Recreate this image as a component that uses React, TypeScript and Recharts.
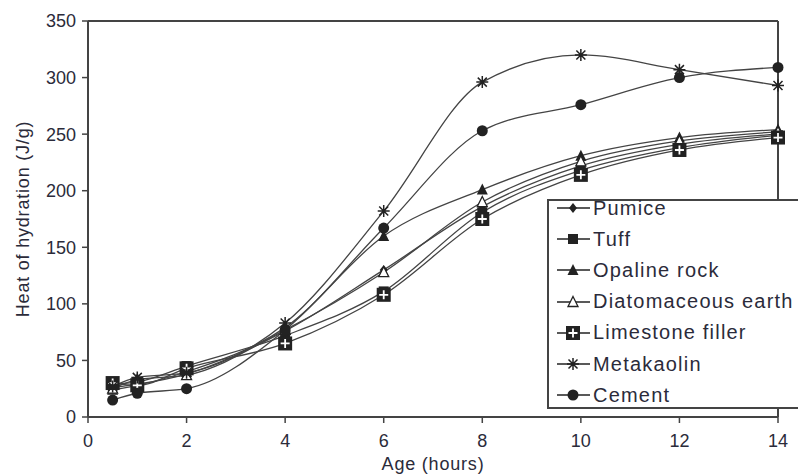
import React from "react";
import {
  LineChart,
  Line,
  XAxis,
  YAxis,
  Legend,
  ReferenceLine,
} from "recharts";

const ages = [0.5, 1, 2, 4, 6, 8, 10, 12, 14];
const pumice = [26, 29, 38, 76, 130, 186, 222, 241, 250];
const tuff = [29, 31, 45, 72, 111, 181, 218, 238, 249];
const opaline = [24, 28, 40, 79, 160, 201, 231, 247, 254];
const diatomaceous = [25, 33, 37, 77, 128, 190, 226, 244, 252];
const limestone = [30, 28, 43, 65, 108, 175, 214, 236, 247];
const metakaolin = [27, 35, 39, 83, 182, 296, 320, 307, 293];
const cement = [15, 21, 25, 77, 167, 253, 276, 300, 309];

const xTicks = [0, 2, 4, 6, 8, 10, 12, 14];
const yTicks = [0, 50, 100, 150, 200, 250, 300, 350];

const series = [
  { key: "pumice", name: "Pumice", values: pumice, marker: "diamond" },
  { key: "tuff", name: "Tuff", values: tuff, marker: "square" },
  { key: "opaline", name: "Opaline rock", values: opaline, marker: "triangle" },
  { key: "diatomaceous", name: "Diatomaceous earth", values: diatomaceous, marker: "openTriangle" },
  { key: "limestone", name: "Limestone filler", values: limestone, marker: "plusSquare" },
  { key: "metakaolin", name: "Metakaolin", values: metakaolin, marker: "star" },
  { key: "cement", name: "Cement", values: cement, marker: "circle" },
];

const data = ages.map((a, i) => {
  const row: Record<string, number> = { age: a };
  series.forEach((s) => {
    row[s.key] = s.values[i];
  });
  return row;
});

const INK = "#222";
const LINE = "#444";
const TEXT = "#2b2b3a";
const FONT = "'Liberation Sans', Arial, sans-serif";

function Marker({ kind, cx, cy }: { kind: string; cx: number; cy: number }) {
  switch (kind) {
    case "diamond":
      return (
        <polygon
          points={`${cx},${cy - 5} ${cx + 4},${cy} ${cx},${cy + 5} ${cx - 4},${cy}`}
          fill={INK}
        />
      );
    case "square":
      return <rect x={cx - 5} y={cy - 5} width={10} height={10} fill={INK} />;
    case "triangle":
      return (
        <polygon
          points={`${cx},${cy - 6} ${cx + 5.5},${cy + 5} ${cx - 5.5},${cy + 5}`}
          fill={INK}
        />
      );
    case "openTriangle":
      return (
        <polygon
          points={`${cx},${cy - 5.5} ${cx + 5},${cy + 4.5} ${cx - 5},${cy + 4.5}`}
          fill="#fff"
          stroke={INK}
          strokeWidth={1.3}
        />
      );
    case "plusSquare":
      return (
        <g>
          <rect x={cx - 7} y={cy - 7} width={14} height={14} fill={INK} />
          <path
            d={`M${cx - 4.5},${cy} H${cx + 4.5} M${cx},${cy - 4.5} V${cy + 4.5}`}
            stroke="#fff"
            strokeWidth={1.8}
          />
        </g>
      );
    case "star":
      return (
        <path
          d={`M${cx - 6},${cy} H${cx + 6} M${cx},${cy - 6} V${cy + 6} M${cx - 4.5},${cy - 4.5} L${cx + 4.5},${cy + 4.5} M${cx - 4.5},${cy + 4.5} L${cx + 4.5},${cy - 4.5}`}
          stroke={INK}
          strokeWidth={1.5}
        />
      );
    case "circle":
    default:
      return <circle cx={cx} cy={cy} r={5.5} fill={INK} />;
  }
}

// legend box runs off the right edge in the source figure, so no right border
const LegendBox = () => (
  <div
    style={{
      position: "relative",
      background: "#fff",
      borderTop: `2px solid ${LINE}`,
      borderLeft: `2px solid ${LINE}`,
      borderBottom: `2px solid ${LINE}`,
      width: 251,
      height: 210,
      boxSizing: "border-box",
      fontFamily: FONT,
    }}
  >
    {series.map((s, i) => (
      <div
        key={s.key}
        style={{
          position: "absolute",
          left: 6,
          top: -8 + i * 31.2,
          height: 30,
          display: "flex",
          alignItems: "center",
        }}
      >
        <svg width={36} height={30}>
          <line x1={2} y1={15} x2={35} y2={15} stroke={INK} strokeWidth={1.5} />
          <Marker kind={s.marker} cx={18} cy={15} />
        </svg>
        <span
          style={{
            fontSize: 20,
            color: TEXT,
            marginLeft: 2,
            letterSpacing: 1.2,
            whiteSpace: "nowrap",
          }}
        >
          {s.name}
        </span>
      </div>
    ))}
  </div>
);

export default function App() {
  return (
    <div style={{ position: "absolute", left: 0, top: 0, width: 798, height: 474, overflow: "hidden" }}>
      <LineChart
        width={798}
        height={474}
        data={data}
        margin={{ top: 21, right: 20, bottom: 0, left: 0 }}
      >
        <XAxis
          dataKey="age"
          type="number"
          domain={[0, 14]}
          ticks={xTicks}
          height={57}
          tickSize={6}
          tickMargin={11}
          axisLine={{ stroke: LINE, strokeWidth: 2 }}
          tickLine={{ stroke: LINE, strokeWidth: 1.5 }}
          tick={{ fill: TEXT, fontSize: 18, fontFamily: FONT }}
          label={{
            value: "Age (hours)",
            position: "center",
            dy: 18,
            style: { fill: TEXT, fontSize: 18, fontFamily: FONT, letterSpacing: 0.8 },
          }}
        />
        <YAxis
          type="number"
          domain={[0, 350]}
          ticks={yTicks}
          width={88}
          tickSize={6}
          tickMargin={6}
          axisLine={{ stroke: LINE, strokeWidth: 2 }}
          tickLine={{ stroke: LINE, strokeWidth: 1.5 }}
          tick={{ fill: TEXT, fontSize: 18, fontFamily: FONT }}
          label={{
            value: "Heat of hydration (J/g)",
            angle: -90,
            position: "center",
            dx: -21,
            style: { fill: TEXT, fontSize: 18, fontFamily: FONT, letterSpacing: 0.8 },
          }}
        />
        <ReferenceLine y={350} stroke={LINE} strokeWidth={2} />
        <ReferenceLine x={14} stroke={LINE} strokeWidth={2} />
        {series.map((s) => (
          <Line
            key={s.key}
            dataKey={s.key}
            name={s.name}
            type="monotone"
            stroke={LINE}
            strokeWidth={1.3}
            isAnimationActive={false}
            dot={(p: any) => (
              <g key={`${s.key}-${p.index}`}>
                <Marker kind={s.marker} cx={p.cx} cy={p.cy} />
              </g>
            )}
            activeDot={false}
          />
        ))}
        <Legend
          layout="vertical"
          align="center"
          verticalAlign="middle"
          content={() => <LegendBox />}
          wrapperStyle={{ position: "absolute", left: 547, top: 199, width: 251, height: 210 }}
        />
      </LineChart>
    </div>
  );
}
